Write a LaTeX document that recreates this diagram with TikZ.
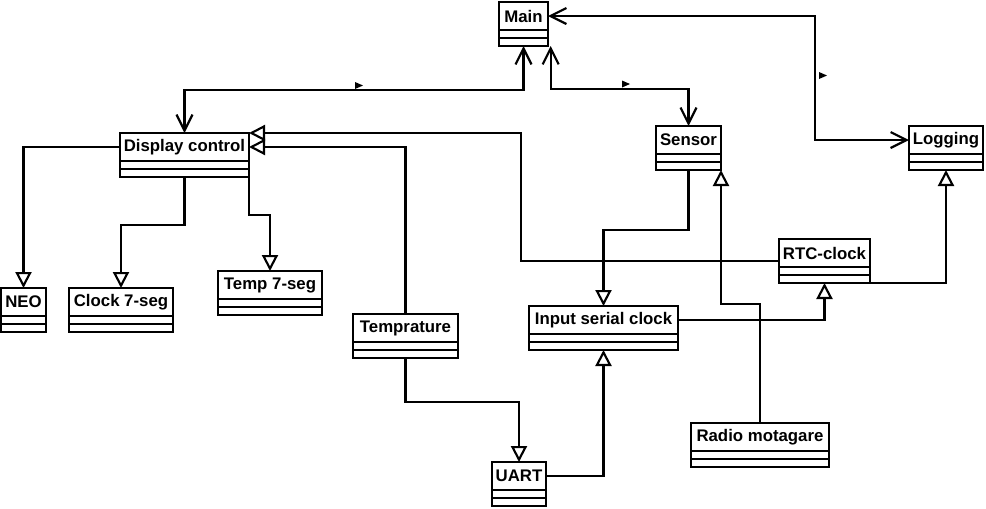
\documentclass[tikz,border=0pt]{standalone}
\usepackage{fontspec}
\setsansfont{Liberation Sans}
\usetikzlibrary{positioning, arrows.meta}

\newcommand{\umlclass}[4]{%
  \node[cls, minimum width=#3*0.75pt] (#1) at (#2) {#4};
  \node[ops, minimum width=#3*0.75pt, below=0pt of #1] (#1-ops) {};}
\newcommand{\navmark}[1]{\fill (#1) ++(-4,-3.5) -- ++(8,3.5) -- ++(-8,3.5) -- cycle;}

\begin{document}
\begin{tikzpicture}[x=0.75pt, y=-0.75pt, line width=1.6pt,
  cls/.style={draw, minimum height=21pt, inner sep=2pt, outer sep=0pt, font=\sffamily\bfseries\fontsize{12.6}{14}\selectfont},
  ops/.style={draw, minimum height=12pt, inner sep=0pt, outer sep=0pt, path picture={\draw (path picture bounding box.west) -- (path picture bounding box.east);}},
  assoc/.style={<->, >={Straight Barb[length=12pt, width=12pt]}},
  gen/.style={-{Triangle[open, length=12pt, width=12pt]}}]
  \useasboundingbox (0,0) rectangle (986,508);

  \umlclass{main}{523.5,16}{49}{Main}
  \umlclass{dc}{184.5,147}{129}{Display control}
  \umlclass{sensor}{688.5,140}{65}{Sensor}
  \umlclass{logging}{946,140}{74}{Logging}
  \umlclass{rtc}{824.5,253}{91}{RTC-clock}
  \umlclass{neo}{23.5,302}{45}{NEO}
  \umlclass{clock7}{121,302}{104}{Clock 7-seg}
  \umlclass{temp7}{270,285}{104}{Temp 7-seg}
  \umlclass{temp}{405.5,328}{105}{Temprature}
  \umlclass{isc}{603.5,320}{149}{Input serial clock}
  \umlclass{uart}{519,476}{54}{UART}
  \umlclass{radio}{760,437}{138}{Radio motagare}

  \draw[assoc] (main-ops.south) -- ++(0,44) -| (dc.north);
  \draw[assoc] ([xshift=2pt]main-ops.south east) -- ++(0,43) -| (sensor.north);
  \draw[assoc] (main.east) -- ++(267,0) |- (logging.west);
  \navmark{359,85.5}
  \navmark{626,84}
  \navmark{823,75.5}

  \draw[gen] (dc.west) -| (neo.north);
  \draw[gen] (dc-ops.south) -- ++(0,48) -| (clock7.north);
  \draw[gen] (dc-ops.south east) -- ++(0,38) -| (temp7.north);
  \draw[gen] (temp.north) |- (dc.east);
  \draw[gen] ([yshift=-6pt]rtc.west) -- ++(-258,0) |- (dc.north east);
  \draw[gen] (sensor-ops.south) -- ++(0,60) -| (isc.north);
  \draw[gen] (radio.north) -- ++(0,-119) -| (sensor-ops.south east);
  \draw[gen] (isc.east) -| (rtc-ops.south);
  \draw[gen] (rtc-ops.south east) -| (logging-ops.south);
  \draw[gen] (uart.east) -| (isc-ops.south);
  \draw[gen] (temp-ops.south) -- ++(0,44) -| (uart.north);
\end{tikzpicture}
\end{document}
